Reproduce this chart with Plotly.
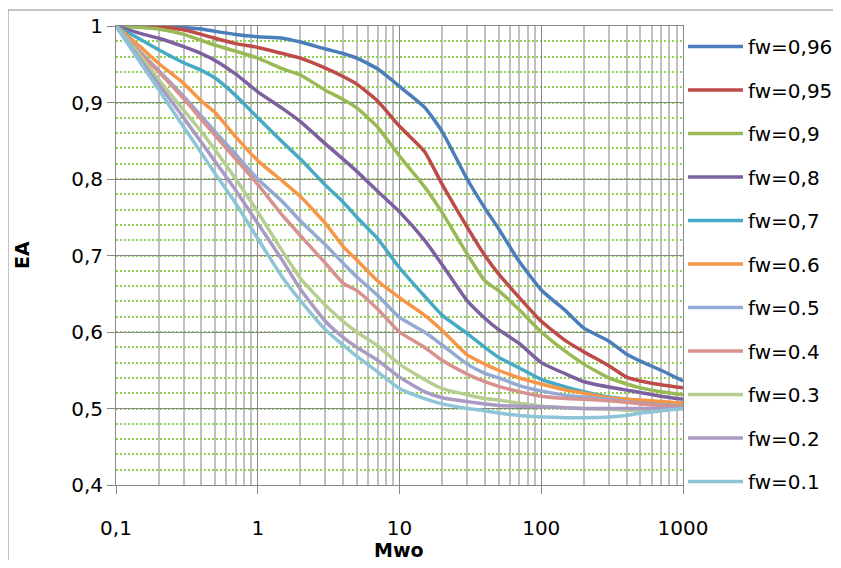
import plotly.graph_objects as go

# ---------------- data ----------------
mwo = [0.1, 0.15, 0.2, 0.3, 0.4, 0.5, 0.7, 1, 1.5, 2, 3, 4, 5, 7, 10, 15, 20, 30, 40, 50,
       70, 100, 150, 200, 300, 400, 500, 700, 1000]

fw_096 = [1.000, 1.000, 1.000, 0.998, 0.996, 0.993, 0.989, 0.986, 0.984, 0.979, 0.970, 0.964, 0.958, 0.944, 0.921,
          0.894, 0.862, 0.800, 0.762, 0.735, 0.692, 0.655, 0.627, 0.605, 0.588, 0.571, 0.562, 0.550, 0.536]
fw_095 = [1.000, 1.000, 0.999, 0.995, 0.989, 0.984, 0.977, 0.972, 0.964, 0.958, 0.945, 0.934, 0.924, 0.902, 0.869,
          0.836, 0.793, 0.737, 0.700, 0.676, 0.645, 0.614, 0.588, 0.574, 0.556, 0.541, 0.536, 0.531, 0.527]
fw_09 = [1.000, 0.998, 0.996, 0.989, 0.981, 0.975, 0.967, 0.958, 0.944, 0.936, 0.916, 0.904, 0.893, 0.868, 0.830,
         0.790, 0.756, 0.702, 0.667, 0.654, 0.629, 0.600, 0.574, 0.558, 0.540, 0.532, 0.527, 0.522, 0.518]
fw_08 = [1.000, 0.990, 0.984, 0.973, 0.964, 0.955, 0.937, 0.914, 0.892, 0.875, 0.846, 0.826, 0.810, 0.784, 0.757,
         0.720, 0.688, 0.641, 0.618, 0.603, 0.585, 0.560, 0.545, 0.535, 0.528, 0.524, 0.521, 0.516, 0.512]
fw_07 = [1.000, 0.982, 0.969, 0.952, 0.942, 0.932, 0.909, 0.880, 0.848, 0.826, 0.792, 0.770, 0.750, 0.722, 0.684,
         0.647, 0.622, 0.598, 0.580, 0.567, 0.553, 0.538, 0.528, 0.522, 0.515, 0.512, 0.510, 0.508, 0.507]
fw_06 = [1.000, 0.972, 0.951, 0.925, 0.902, 0.887, 0.855, 0.824, 0.797, 0.777, 0.742, 0.712, 0.694, 0.667, 0.645,
         0.622, 0.602, 0.570, 0.558, 0.550, 0.540, 0.532, 0.524, 0.520, 0.514, 0.512, 0.511, 0.509, 0.507]
fw_05 = [1.000, 0.965, 0.942, 0.908, 0.882, 0.862, 0.832, 0.800, 0.770, 0.745, 0.714, 0.690, 0.672, 0.648, 0.619,
         0.600, 0.583, 0.558, 0.546, 0.540, 0.530, 0.523, 0.517, 0.515, 0.512, 0.509, 0.507, 0.505, 0.503]
fw_04 = [1.000, 0.963, 0.940, 0.905, 0.878, 0.857, 0.826, 0.793, 0.752, 0.726, 0.690, 0.664, 0.654, 0.630, 0.600,
         0.580, 0.563, 0.545, 0.535, 0.529, 0.522, 0.516, 0.513, 0.512, 0.510, 0.508, 0.506, 0.504, 0.502]
fw_03 = [1.000, 0.960, 0.930, 0.890, 0.862, 0.838, 0.800, 0.757, 0.705, 0.670, 0.635, 0.614, 0.600, 0.582, 0.558,
         0.538, 0.526, 0.518, 0.513, 0.511, 0.507, 0.503, 0.501, 0.500, 0.499, 0.498, 0.497, 0.498, 0.500]
fw_02 = [1.000, 0.955, 0.924, 0.880, 0.848, 0.823, 0.785, 0.742, 0.693, 0.656, 0.614, 0.593, 0.580, 0.563, 0.541,
         0.522, 0.514, 0.509, 0.506, 0.504, 0.503, 0.502, 0.501, 0.500, 0.500, 0.500, 0.500, 0.500, 0.500]
fw_01 = [1.000, 0.951, 0.917, 0.868, 0.834, 0.807, 0.768, 0.722, 0.671, 0.641, 0.603, 0.583, 0.568, 0.548, 0.526,
         0.513, 0.506, 0.500, 0.497, 0.494, 0.491, 0.489, 0.488, 0.488, 0.489, 0.491, 0.494, 0.497, 0.500]

series_names = ["fw=0,96", "fw=0,95", "fw=0,9", "fw=0,8", "fw=0,7", "fw=0.6",
                "fw=0.5", "fw=0.4", "fw=0.3", "fw=0.2", "fw=0.1"]
series_values = [fw_096, fw_095, fw_09, fw_08, fw_07, fw_06, fw_05, fw_04, fw_03, fw_02, fw_01]
series_colors = ["#4A7EBB", "#BE4B48", "#98B954", "#7D60A0", "#46AAC5", "#F79646",
                 "#94A9D3", "#D7918F", "#B6CE92", "#A99BC4", "#8EC4D8"]

x_tick_vals = [0.1, 1, 10, 100, 1000]
x_tick_text = ["0,1", "1", "10", "100", "1000"]
y_tick_vals = [0.4, 0.5, 0.6, 0.7, 0.8, 0.9, 1.0]
y_tick_text = ["0,4", "0,5", "0,6", "0,7", "0,8", "0,9", "1"]
x_minor_vals = [d * m for d in [0.1, 1, 10, 100] for m in range(2, 10)]

# ---------------- figure ----------------
OFF = 8                      # default page (body) margin of the html page
W, H = 833, 552
ML, MR, MT, MB = 108, 158, 18, 75
FONT = "DejaVu Sans"
FS = 20

fig = go.Figure()
for i, (name, vals, col) in enumerate(zip(series_names, series_values, series_colors)):
    fig.add_trace(go.Scatter(
        x=mwo, y=vals, name=name, mode="lines",
        line=dict(color=col, width=3.5, shape="spline", smoothing=0.5),
        legendgroup=f"g{i}",
    ))

pw = W - ML - MR
ph = H - MT - MB


def px_to_paper_x(px):          # page pixel -> paper coordinate
    return (px - OFF - ML) / pw


def px_to_paper_y(py):
    return (H - MB - (py - OFF)) / ph


fig.update_layout(
    width=W, height=H,
    margin=dict(l=ML, r=MR, t=MT, b=MB, pad=0, autoexpand=False),
    paper_bgcolor="white", plot_bgcolor="white",
    font=dict(family=FONT, size=FS, color="#000000"),
    showlegend=True,
    legend=dict(
        x=px_to_paper_x(683), xanchor="left",
        y=px_to_paper_y(27), yanchor="top",
        font=dict(family=FONT, size=FS, color="#000000"),
        bgcolor="rgba(0,0,0,0)",
        tracegroupgap=14.5,
        itemwidth=55,
        maxheight=560,
    ),
    xaxis=dict(
        type="log", range=[-1, 3],
        tickmode="array", tickvals=x_tick_vals, ticktext=x_tick_text,
        showgrid=True, gridcolor="#878787", gridwidth=1,
        ticks="outside", ticklen=8, tickcolor="#878787", tickwidth=1,
        showline=True, linecolor="#878787", linewidth=1, mirror=True,
        ticklabelstandoff=17,
        automargin=False,
        minor=dict(tickmode="array", tickvals=x_minor_vals, showgrid=True,
                   gridcolor="#C0C0C0", gridwidth=1.5, ticks=""),
        zeroline=False,
        tickfont=dict(family=FONT, size=FS, color="#000000"),
    ),
    yaxis=dict(
        range=[0.4, 1.0],
        tickmode="array", tickvals=y_tick_vals, ticktext=y_tick_text,
        showgrid=True, gridcolor="#878787", gridwidth=1,
        ticks="outside", ticklen=8, tickcolor="#878787", tickwidth=1,
        showline=True, linecolor="#878787", linewidth=1, mirror=True,
        automargin=False,
        minor=dict(dtick=0.02, showgrid=True, gridcolor="#92D050",
                   gridwidth=1.5, griddash="2px,2px", ticks=""),
        zeroline=False,
        tickfont=dict(family=FONT, size=FS, color="#000000"),
    ),
    annotations=[
        dict(text="<b>EA</b>", xref="paper", yref="paper",
             x=px_to_paper_x(22), y=px_to_paper_y(255), xanchor="center", yanchor="middle",
             textangle=-90, showarrow=False,
             font=dict(family=FONT, size=FS - 1, color="#000000")),
        dict(text="<b>Mwo</b>", xref="paper", yref="paper",
             x=px_to_paper_x(399), y=px_to_paper_y(550), xanchor="center", yanchor="middle",
             showarrow=False,
             font=dict(family=FONT, size=FS - 1, color="#000000")),
    ],
    shapes=[
        dict(type="line", xref="paper", yref="paper",
             x0=px_to_paper_x(8), x1=px_to_paper_x(8),
             y0=px_to_paper_y(10), y1=px_to_paper_y(H + OFF + 5),
             line=dict(color="#878787", width=1)),
        dict(type="line", xref="paper", yref="paper",
             x0=px_to_paper_x(8), x1=px_to_paper_x(W + OFF + 5),
             y0=px_to_paper_y(10), y1=px_to_paper_y(10),
             line=dict(color="#878787", width=1)),
    ],
)

fig.write_html("out.html")
